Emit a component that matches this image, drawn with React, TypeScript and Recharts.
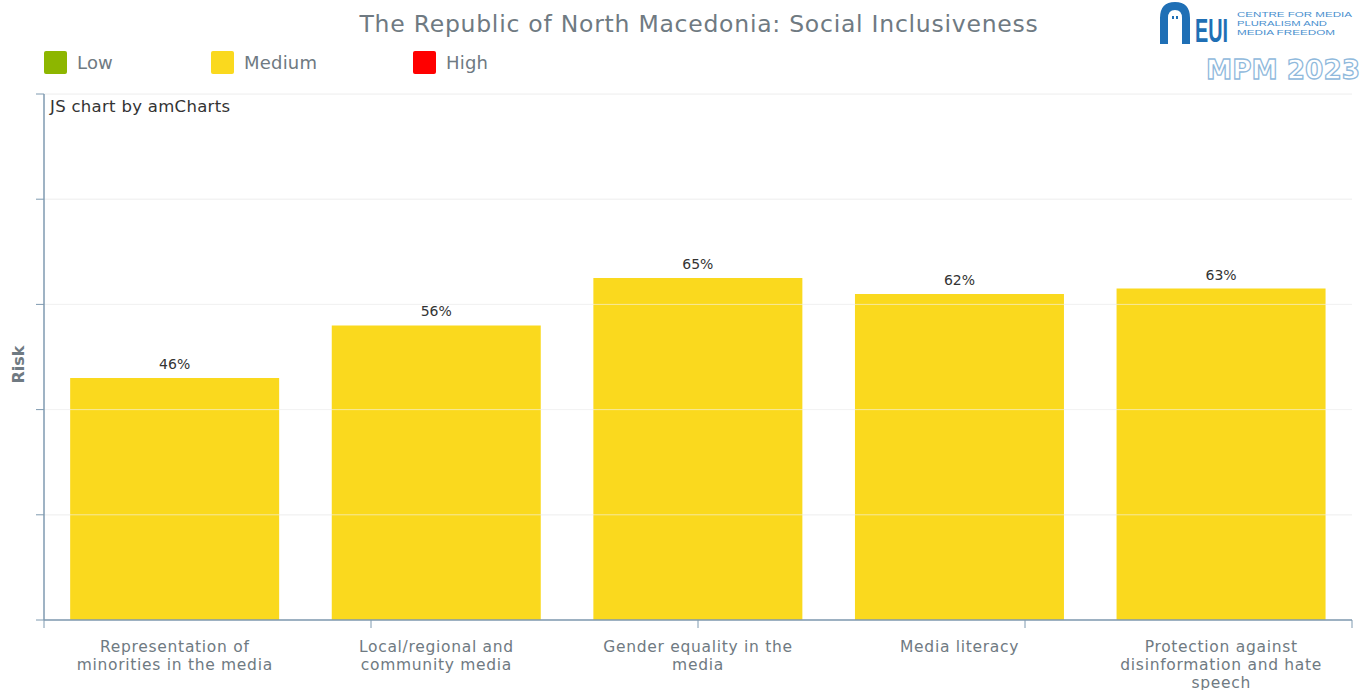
import {
  Bar,
  BarChart,
  CartesianGrid,
  LabelList,
  ReferenceLine,
  XAxis,
  YAxis,
} from "recharts";

const categories = [
  "Representation of\nminorities in the media",
  "Local/regional and\ncommunity media",
  "Gender equality in the\nmedia",
  "Media literacy",
  "Protection against\ndisinformation and hate\nspeech",
];
const riskValues = [46, 56, 65, 62, 63];
const yTicks = [0, 20, 40, 60, 80, 100];
const boundaryTicks = [0, 1, 2, 3, 4, 5];
const legendItems = [
  { name: "Low", color: "#8db600" },
  { name: "Medium", color: "#fad91e" },
  { name: "High", color: "#ff0000" },
];

const data = categories.map((c, i) => ({ category: c, risk: riskValues[i] }));

const FONT = "'DejaVu Sans', Verdana, sans-serif";
const AXIS = "#7f9ab0";
const TEXT = "#6f7a82";

function CategoryTick(props: any) {
  const { x, y, payload } = props;
  const lines = String(payload.value).split("\n");
  return (
    <text x={x} y={y} textAnchor="middle" fill={TEXT} fontSize={15.5} letterSpacing={0.7} fontFamily={FONT}>
      {lines.map((l, i) => (
        <tspan key={i} x={x} dy={i === 0 ? 23 : 18}>
          {l}
        </tspan>
      ))}
    </text>
  );
}

function Logo() {
  return (
    <div style={{ position: "absolute", left: 1158, top: 0, width: 210, height: 86 }}>
      <svg width={210} height={86}>
        <path d="M2 44 L2 18 Q2 2 17 2 Q32 2 32 18 L32 44 L24 44 L24 18 Q24 10 17 10 Q10 10 10 18 L10 44 Z" fill="#1f6fb5" />
        <rect x={14} y={16} width={2} height={3} fill="#1f6fb5" />
        <rect x={18} y={16} width={2} height={3} fill="#1f6fb5" />
        <text x={37} y={42} fontSize={34} fontWeight="bold" fill="#1f6fb5" fontFamily="'Liberation Sans Narrow', 'Liberation Sans', Arial, sans-serif" textLength={33} lengthAdjust="spacingAndGlyphs">
          EUI
        </text>
        <g fontSize={6.5} fill="#4a8fce" fontFamily="'Liberation Sans', Arial, sans-serif">
          <text x={79} y={17} textLength={115} lengthAdjust="spacingAndGlyphs">CENTRE FOR MEDIA</text>
          <text x={79} y={26} textLength={90} lengthAdjust="spacingAndGlyphs">PLURALISM AND</text>
          <text x={79} y={35} textLength={98} lengthAdjust="spacingAndGlyphs">MEDIA FREEDOM</text>
        </g>
        <text x={48} y={79} fontSize={27} fontWeight="bold" fill="#ffffff" stroke="#8fb9dc" strokeWidth={1.3} fontFamily="'DejaVu Sans', sans-serif" textLength={154} lengthAdjust="spacingAndGlyphs">
          MPM 2023
        </text>
      </svg>
    </div>
  );
}

export default function App() {
  return (
    <div style={{ position: "absolute", left: 0, top: 0, width: 1371, height: 690, background: "#fff", fontFamily: FONT, overflow: "hidden" }}>
      <div style={{ position: "absolute", left: 0, width: 1398, top: 10, textAlign: "center", fontSize: 23.5, letterSpacing: 0.75, color: TEXT }}>
        The Republic of North Macedonia: Social Inclusiveness
      </div>
      {legendItems.map((item, i) => (
        <div key={item.name} style={{ position: "absolute", left: [44, 211, 413][i], top: 51, display: "flex", alignItems: "center" }}>
          <div style={{ width: 23, height: 23, background: item.color, borderRadius: 2 }} />
          <span style={{ marginLeft: 10, fontSize: 18, letterSpacing: 0.2, color: TEXT }}>{item.name}</span>
        </div>
      ))}
      <Logo />
      <div style={{ position: "absolute", left: 50, top: 97, fontSize: 16.5, letterSpacing: 0.3, color: "#333" }}>JS chart by amCharts</div>
      <div style={{ position: "absolute", left: 0, top: 356, width: 36, textAlign: "center", transform: "rotate(-90deg)", fontSize: 16, fontWeight: "bold", color: TEXT }}>
        Risk
      </div>
      <BarChart
        width={1371}
        height={690}
        data={data}
        margin={{ top: 94, right: 19, bottom: 0, left: 43 }}
        barCategoryGap="10%"
        style={{ position: "absolute", left: 0, top: 0 }}
      >
        <CartesianGrid stroke="#f0f0f0" vertical={false} xAxisId="cat" />
        <XAxis
          xAxisId="bounds"
          type="number"
          domain={[0, 5]}
          ticks={boundaryTicks}
          height={1}
          tickSize={8}
          tickFormatter={() => ""}
          axisLine={{ stroke: AXIS, strokeWidth: 1.5 }}
          tickLine={{ stroke: AXIS }}
        />
        <XAxis
          xAxisId="cat"
          dataKey="category"
          height={69}
          axisLine={false}
          tickLine={false}
          interval={0}
          tick={<CategoryTick />}
        />
        <YAxis
          domain={[0, 100]}
          ticks={yTicks}
          width={1}
          tickSize={8}
          tickFormatter={() => ""}
          axisLine={{ stroke: AXIS, strokeWidth: 1.5 }}
          tickLine={{ stroke: AXIS }}
        />
        <Bar dataKey="risk" xAxisId="cat" fill="#fad91e" isAnimationActive={false}>
          <LabelList
            dataKey="risk"
            position="top"
            offset={9}
            formatter={(v: any) => `${v}%`}
            style={{ fill: "#333", fontSize: 14, fontFamily: FONT }}
          />
        </Bar>
        {yTicks.slice(1).map((t) => (
          <ReferenceLine key={t} y={t} xAxisId="cat" stroke="#f4f4f4" strokeOpacity={0.6} />
        ))}
      </BarChart>
    </div>
  );
}
